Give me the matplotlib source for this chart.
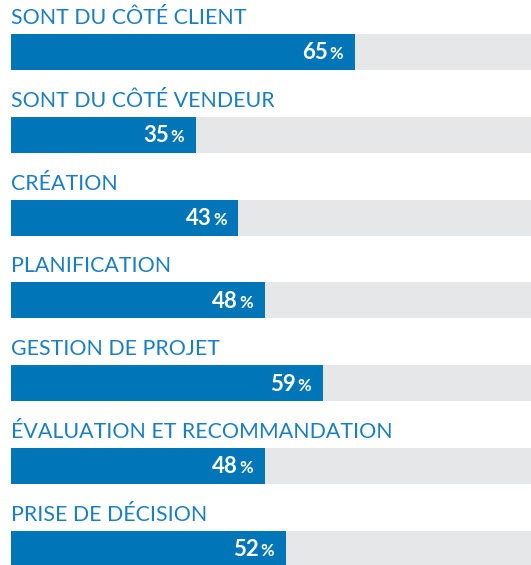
import matplotlib
matplotlib.use("Agg")
import matplotlib.pyplot as plt

# data
labels = [
    "SONT DU CÔTÉ CLIENT",
    "SONT DU CÔTÉ VENDEUR",
    "CRÉATION",
    "PLANIFICATION",
    "GESTION DE PROJET",
    "ÉVALUATION ET RECOMMANDATION",
    "PRISE DE DÉCISION",
]
values = [65, 35, 43, 48, 59, 48, 52]

BLUE = "#0075b8"
LABEL_BLUE = "#1c7ec2"
GRAY = "#e6e7e8"

fig = plt.figure(figsize=(5.31, 5.65), dpi=100)
# axes starts at the bars' left edge and runs off the right border
ax = fig.add_axes([11 / 531, 0, 1 - 11 / 531, 1])
ax.set_xlim(0, 520 / 529 * 100)
row = 82.8
ax.set_ylim((565 - 52) / row, -52 / row)
ax.axis("off")

bar_h = 36 / row
ys = list(range(len(values)))
ax.barh(ys, [100] * len(values), height=bar_h, color=GRAY, left=0)
ax.barh(ys, values, height=bar_h, color=BLUE)

for y, lab, v in zip(ys, labels, values):
    ax.text(0, y - 28 / row, lab, color=LABEL_BLUE, fontsize=15.4,
            family="Lato", va="baseline", ha="left")
    # number and a smaller percent sign, right-aligned inside the bar
    ax.annotate("%", (v, y), xytext=(-8.6, -5.3), textcoords="offset points",
                color="white", fontsize=12, family="Lato", fontweight="bold",
                ha="right", va="baseline")
    ax.annotate(str(v), (v, y), xytext=(-19.6, -5.3), textcoords="offset points",
                color="white", fontsize=16, family="Lato", fontweight="bold",
                ha="right", va="baseline")

fig.savefig("out.png", dpi=100)
